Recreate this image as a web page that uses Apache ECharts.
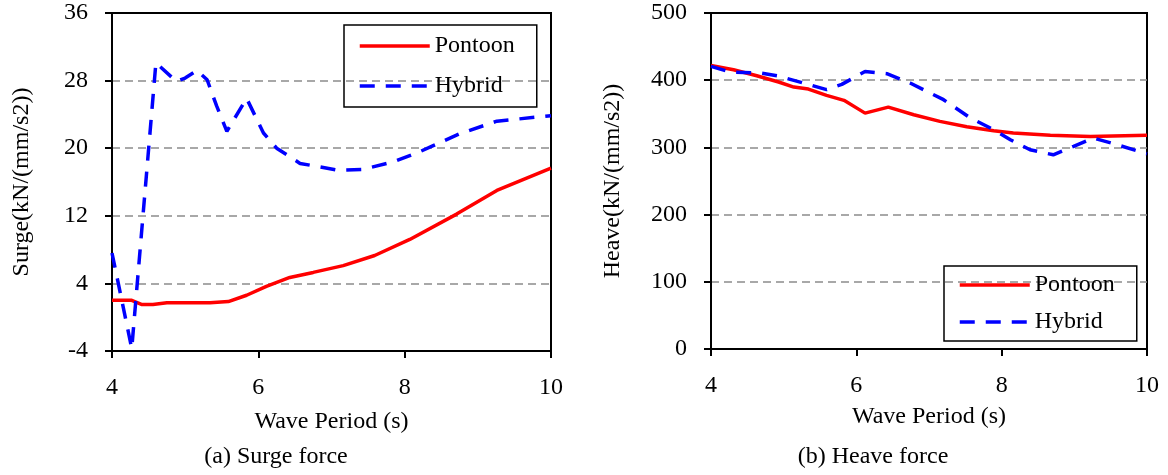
<!DOCTYPE html>
<html>
<head>
<meta charset="utf-8">
<script src="https://cdn.jsdelivr.net/npm/echarts@6/dist/echarts.min.js"></script>
<style>
    html, body { margin: 0; padding: 0; background: #fff; }
    #chart { width: 1168px; height: 475px; }
</style>
</head>
<body>
<div id="chart"></div>
<script>
// (a) surge force
var surgePontoonT = [4, 4.27, 4.41, 4.56, 4.75, 5.34, 5.59, 5.84, 6.11, 6.43, 6.75, 7.16, 7.59, 8.07, 8.71, 9.26, 10];
var surgePontoonF = [2.0, 2.0, 1.5, 1.5, 1.7, 1.7, 1.85, 2.6, 3.65, 4.7, 5.3, 6.1, 7.3, 9.2, 12.2, 15.0, 17.65];
var surgeHybridT = [4, 4.27, 4.6, 4.88, 5.0, 5.16, 5.3, 5.43, 5.57, 5.84, 6.07, 6.25, 6.57, 7.09, 7.43, 7.85, 8.21, 8.39, 8.75, 9.26, 10];
var surgeHybridF = [7.6, -3.7, 30.1, 27.9, 28.3, 29.2, 28.1, 25, 22.0, 25.9, 21.8, 20.0, 18.2, 17.4, 17.5, 18.4, 19.6, 20.3, 21.7, 23.2, 23.85];

// (b) heave force
var heavePontoonT = [4, 4.31, 4.63, 4.93, 5.14, 5.34, 5.59, 5.83, 6.12, 6.44, 6.79, 7.15, 7.52, 7.89, 8.16, 8.67, 9.22, 10];
var heavePontoonF = [422, 415.6, 406.7, 397.3, 389.8, 386.8, 377.4, 370, 351, 360, 348.6, 338.7, 330.8, 324.8, 321.3, 317.9, 316.4, 318];
var heaveHybridT = [4, 4.27, 4.68, 4.91, 5.27, 5.59, 5.8, 6.12, 6.42, 6.74, 7.2, 7.57, 7.89, 8.12, 8.39, 8.71, 8.99, 9.26, 9.54, 10];
var heaveHybridF = [420.6, 412, 410.7, 406.7, 395.8, 385.9, 393.8, 413, 409.7, 395.8, 371, 343.7, 326.3, 311.4, 296.5, 289, 301.5, 313.9, 305.5, 290.6];

var seriesNames = ['Pontoon', 'Hybrid'];
var captions = ['(a) Surge force', '(b) Heave force'];
var xName = 'Wave Period (s)';
var yNames = ['Surge(kN/(mm/s2))', 'Heave(kN/(mm/s2))'];

var FONT = '"Liberation Serif", "Times New Roman", serif';
var FS = 24;

function zip(xs, ys) {
    return xs.map(function (x, i) { return [x, ys[i]]; });
}

function xAxisFor(idx, gap) {
    return {
        type: 'value',
        gridIndex: idx,
        min: 4,
        max: 10,
        interval: 2,
        name: xName,
        nameLocation: 'middle',
        nameGap: gap,
        nameTextStyle: { color: '#000', fontSize: FS, fontFamily: FONT },
        axisLine: { show: true, onZero: false, lineStyle: { color: '#000', width: 2 } },
        axisTick: { show: true, inside: false, length: 7, lineStyle: { color: '#000', width: 2 } },
        axisLabel: { color: '#000', fontSize: FS, fontFamily: FONT, margin: 25 },
        splitLine: { show: false }
    };
}

function yAxisFor(idx, min, max, step, gap) {
    return {
        type: 'value',
        gridIndex: idx,
        min: min,
        max: max,
        interval: step,
        name: yNames[idx],
        nameLocation: 'middle',
        nameGap: gap,
        nameTextStyle: { color: '#000', fontSize: FS, fontFamily: FONT },
        axisLine: { show: true, onZero: false, lineStyle: { color: '#000', width: 2 } },
        axisTick: { show: true, inside: false, length: 7, lineStyle: { color: '#000', width: 2 } },
        axisLabel: { color: '#000', fontSize: FS, fontFamily: FONT, margin: 24 },
        splitLine: {
            show: true,
            showMinLine: false,
            showMaxLine: false,
            lineStyle: { color: '#8c8c8c', width: 1.5, type: [8, 5] }
        }
    };
}

function lineSeries(name, idx, data) {
    var solid = name === 'Pontoon';
    return {
        name: name,
        type: 'line',
        xAxisIndex: idx,
        yAxisIndex: idx,
        symbol: 'none',
        smooth: false,
        z: solid ? 3 : 4,
        lineStyle: {
            color: solid ? '#ff0000' : '#0000ff',
            width: 3.5,
            type: solid ? 'solid' : [15, 11]
        },
        itemStyle: { color: solid ? '#ff0000' : '#0000ff' },
        data: data
    };
}

function legendFor(left, top, gap, pad) {
    return {
        data: seriesNames,
        orient: 'vertical',
        left: left,
        top: top,
        itemWidth: 70,
        itemHeight: 14,
        itemGap: gap,
        padding: pad,
        borderColor: '#000',
        borderWidth: 1.5,
        borderRadius: 0,
        selectedMode: false,
        itemStyle: { opacity: 0 },
        lineStyle: { width: 3.5 },
        textStyle: { color: '#000', fontSize: FS, fontFamily: FONT }
    };
}

var myChart = echarts.init(document.getElementById('chart'));

var option = {
    animation: false,
    backgroundColor: '#fff',
    grid: [
        { left: 112, top: 13, width: 439, height: 338, show: true, borderColor: '#000', borderWidth: 2, backgroundColor: 'transparent' },
        { left: 711, top: 13, width: 436, height: 336, show: true, borderColor: '#000', borderWidth: 2, backgroundColor: 'transparent' }
    ],
    xAxis: [xAxisFor(0, 59), xAxisFor(1, 56)],
    yAxis: [yAxisFor(0, -4, 36, 8, 78), yAxisFor(1, 0, 500, 100, 86)],
    legend: [
        legendFor(344, 25, 16, [9, 22, 9, 14]),
        legendFor(944, 266, 13, [7, 22, 7, 14])
    ],
    series: [
        lineSeries('Pontoon', 0, zip(surgePontoonT, surgePontoonF)),
        lineSeries('Hybrid', 0, zip(surgeHybridT, surgeHybridF)),
        lineSeries('Pontoon', 1, zip(heavePontoonT, heavePontoonF)),
        lineSeries('Hybrid', 1, zip(heaveHybridT, heaveHybridF))
    ],
    graphic: [
        { type: 'text', x: 276, y: 457, style: { text: captions[0], fill: '#000', font: FS + 'px ' + FONT, align: 'center', verticalAlign: 'middle' } },
        { type: 'text', x: 873, y: 457, style: { text: captions[1], fill: '#000', font: FS + 'px ' + FONT, align: 'center', verticalAlign: 'middle' } }
    ]
};

myChart.setOption(option);
</script>
</body>
</html>
